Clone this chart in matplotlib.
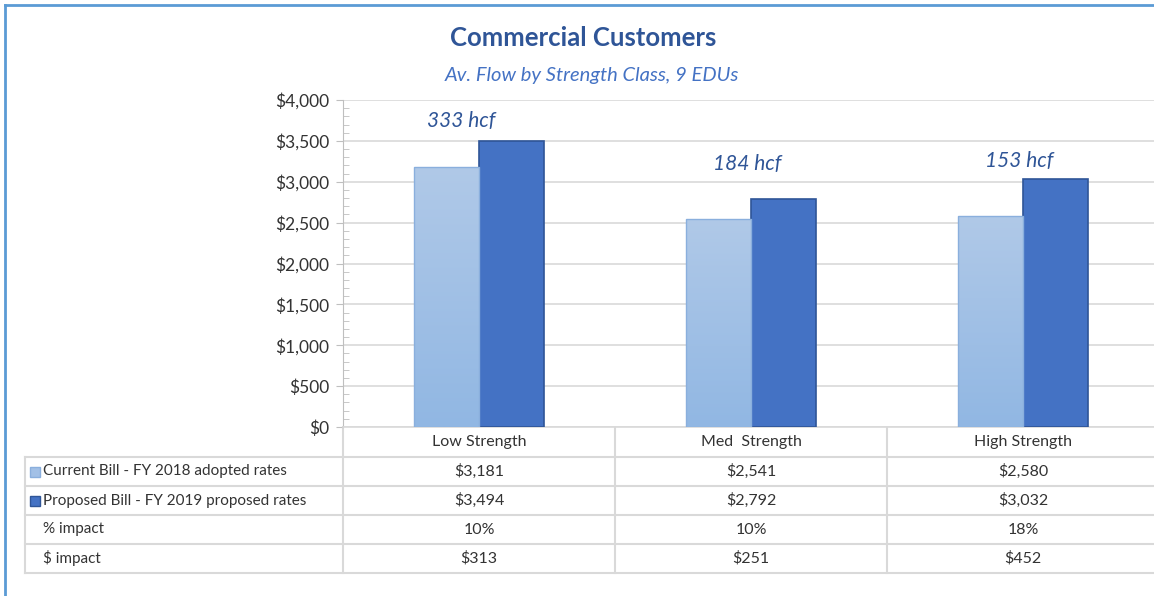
import matplotlib.pyplot as plt
import numpy as np
from matplotlib.ticker import MultipleLocator, FuncFormatter

plt.rcParams['font.family'] = ['Lato', 'DejaVu Sans']

categories = ["Low Strength", "Med  Strength", "High Strength"]
current_bill = [3181, 2541, 2580]
proposed_bill = [3494, 2792, 3032]
pct_impact = ["10%", "10%", "18%"]
dollar_impact = [313, 251, 452]
flow_labels = ["333 hcf", "184 hcf", "153 hcf"]
flow_label_y = [3740, 3215, 3250]
series_names = ["Current Bill - FY 2018 adopted rates",
                "Proposed Bill - FY 2019 proposed rates"]

W, H = 1154, 596
fig = plt.figure(figsize=(W / 100, H / 100), dpi=100)

# chart area (pixel boxes converted to figure fractions)
px_left, px_right, px_top, px_bottom = 343, 1159, 100, 427
ax = fig.add_axes([px_left / W, (H - px_bottom) / H,
                   (px_right - px_left) / W, (px_bottom - px_top) / H])

x = np.arange(len(categories))
bw = 0.239
light_top = np.array([176, 201, 232]) / 255
light_bot = np.array([145, 183, 227]) / 255

bars_cur = ax.bar(x - bw / 2, current_bill, bw, color="#A2C0E6",
                  edgecolor="#8AAFDD", linewidth=1, zorder=3)
bars_new = ax.bar(x + bw / 2, proposed_bill, bw, color="#4472C4",
                  edgecolor="#2F5597", linewidth=1.2, zorder=3)

# vertical gradient on the current-bill bars
grad = np.linspace(0, 1, 256)[:, None, None]
img = light_top * (1 - grad) + light_bot * grad
for b in bars_cur:
    bx, by = b.get_x(), b.get_y()
    im = ax.imshow(img, extent=[bx, bx + b.get_width(), by, by + b.get_height()],
                   aspect="auto", origin="upper", zorder=3.5)
    im.set_clip_path(b)
    b.set_facecolor("none")
    b.set_zorder(4)

ax.set_xlim(-0.5, 2.5)
ax.set_ylim(0, 4000)
ax.yaxis.set_major_locator(MultipleLocator(500))
ax.yaxis.set_minor_locator(MultipleLocator(100))
ax.yaxis.set_major_formatter(FuncFormatter(lambda v, p: "${:,.0f}".format(v)))
ax.tick_params(axis="y", which="major", direction="out", length=5,
               color="#BFBFBF", labelsize=12.5, labelcolor="#333333", pad=5)
ax.tick_params(axis="y", which="minor", direction="in", length=4, color="#BFBFBF")
ax.set_xticks([])
ax.grid(axis="y", color="#D9D9D9", linewidth=1.2, zorder=0)
for s in ["top", "right"]:
    ax.spines[s].set_visible(False)
ax.spines["left"].set_color("#BFBFBF")
ax.spines["bottom"].set_color("#D9D9D9")
ax.spines["bottom"].set_linewidth(1.2)

offsets = [-0.065, -0.015, -0.015]
for i, lab in enumerate(flow_labels):
    ax.text(x[i] + offsets[i], flow_label_y[i], lab, ha="center", va="center",
            fontsize=15, style="italic", color="#2F5597")

# overlay in pixel coordinates for titles, table and frame
ov = fig.add_axes([0, 0, 1, 1], zorder=-1)
ov.set_xlim(0, W)
ov.set_ylim(H, 0)
ov.axis("off")

ov.plot([5, 5], [5, H], color="#5B9BD5", lw=2)
ov.plot([5, W], [5, 5], color="#5B9BD5", lw=2)

ov.text(583, 38, "Commercial Customers", ha="center", va="center",
        fontsize=18.5, fontweight="bold", color="#2F5597")
ov.text(592, 76, "Av. Flow by Strength Class, 9 EDUs", ha="center", va="center",
        fontsize=14.5, style="italic", color="#4472C4")

# data table
grid_c = "#D9D9D9"
col_edges = [343, 615, 887, 1159]
row_edges = [427, 457, 486, 515, 544, 573]
for yy in row_edges[1:]:
    ov.plot([25, W], [yy, yy], color=grid_c, lw=1.5)
for xx in col_edges:
    ov.plot([xx, xx], [427, 573], color=grid_c, lw=1.5)
ov.plot([25, 25], [457, 573], color=grid_c, lw=1.5)

tc = "#333333"
fs = 11.5
col_mid = [(col_edges[i] + col_edges[i + 1]) / 2 for i in range(3)]
row_mid = [(row_edges[i] + row_edges[i + 1]) / 2 for i in range(5)]
for i, c in enumerate(categories):
    ov.text(col_mid[i], row_mid[0], c, ha="center", va="center", fontsize=fs, color=tc)
    ov.text(col_mid[i], row_mid[1], "${:,}".format(current_bill[i]),
            ha="center", va="center", fontsize=fs, color=tc)
    ov.text(col_mid[i], row_mid[2], "${:,}".format(proposed_bill[i]),
            ha="center", va="center", fontsize=fs, color=tc)
    ov.text(col_mid[i], row_mid[3], pct_impact[i], ha="center", va="center",
            fontsize=fs, color=tc)
    ov.text(col_mid[i], row_mid[4], "${:,}".format(dollar_impact[i]),
            ha="center", va="center", fontsize=fs, color=tc)

ov.add_patch(plt.Rectangle((30, row_mid[1] - 5), 10, 10, facecolor="#A2C0E6",
                           edgecolor="#8AAFDD", lw=1))
ov.add_patch(plt.Rectangle((30, row_mid[2] - 5), 10, 10, facecolor="#4472C4",
                           edgecolor="#2F5597", lw=1))
ov.text(43, row_mid[1], series_names[0], ha="left", va="center", fontsize=11, color=tc)
ov.text(43, row_mid[2], series_names[1], ha="left", va="center", fontsize=11, color=tc)
ov.text(43, row_mid[3], "% impact", ha="left", va="center", fontsize=11, color=tc)
ov.text(43, row_mid[4], "$ impact", ha="left", va="center", fontsize=11, color=tc)

plt.savefig("out.png", dpi=100)
